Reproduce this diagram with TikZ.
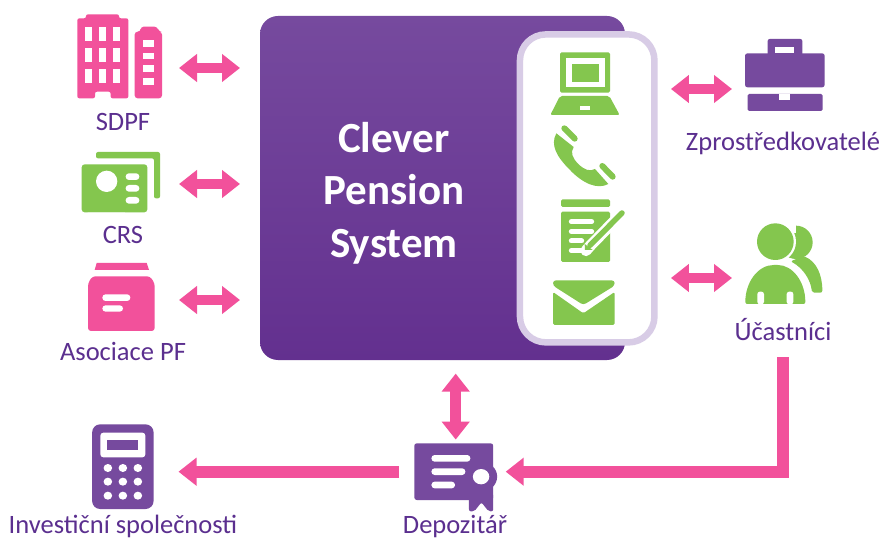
\documentclass[tikz,border=0pt]{standalone}
\usepackage{fontspec}
\setmainfont{Carlito}
\usetikzlibrary{arrows.meta}
\definecolor{pinkc}{HTML}{F2519B}
\definecolor{greenc}{HTML}{84C64E}
\definecolor{purpc}{HTML}{764A9E}
\definecolor{textc}{HTML}{5B2F8F}
\definecolor{ringc}{HTML}{D8CCE6}
\definecolor{botc}{HTML}{63308F}
\tikzset{
  lab/.style={text=textc,inner sep=0pt,font=\fontsize{26.5}{28}\selectfont},
  title/.style={text=white,inner sep=0pt,align=center,font=\fontsize{43}{52.5}\selectfont\bfseries},
  anchorbox/.style={inner sep=0pt,outer sep=0pt},
  dbl/.style={draw=pinkc,line width=10.5pt,{Triangle[length=18pt,width=27pt]}-{Triangle[length=18pt,width=27pt]}},
  sgl/.style={draw=pinkc,line width=12pt,-{Triangle[length=18pt,width=27pt]}},
  zoomed/.style={x=0.33333pt,y=-0.33333pt},
}
\begin{document}
\begin{tikzpicture}[x=1pt,y=-1pt]
\useasboundingbox (0,0) rectangle (881,540);
\fill[white] (0,0) rectangle (881,540);

% main system
\node[anchorbox,rounded corners=18pt,top color=purpc,bottom color=botc,minimum width=365pt,minimum height=344pt] (sys) at (442.5,188) {};
\node[title] (systxt) at (394,193) {Clever\\Pension\\System};
\node[anchorbox,draw=ringc,line width=6.5pt,fill=white,rounded corners=26pt,minimum width=134.5pt,minimum height=308pt] (portal) at (587.2,188.4) {};

% invisible icon frames, connectors end on them
\node[anchorbox,minimum width=102pt,minimum height=60pt] (sdpf) at (128,68) {};
\node[anchorbox,minimum width=102pt,minimum height=60pt] (crs) at (128,184) {};
\node[anchorbox,minimum width=102pt,minimum height=60pt] (asoc) at (128,300) {};
\node[anchorbox,minimum width=62pt,minimum height=60pt] (broker) at (763,89) {};
\node[anchorbox,minimum width=62pt,minimum height=60pt] (part) at (763,278) {};
\node[anchorbox,minimum width=100pt,minimum height=64.2pt] (dep) at (455.7,471.7) {};
\node[anchorbox,minimum width=112pt,minimum height=86pt] (inv) at (122.5,471.7) {};

% ---- SDPF building
\begin{scope}[shift={(60,0)},zoomed]
\fill[pinkc,rounded corners=2pt] (52,295) -- (52,55) -- (78,55) -- (78,43) -- (177,43) -- (177,55) -- (205,55) -- (205,295) -- (152,295) -- (152,275) -- (105,275) -- (105,295) -- cycle;
\fill[pinkc,rounded corners=3pt] (224,295) -- (224,95) -- (242,95) -- (242,80) -- (292,80) -- (296,95) -- (306,95) -- (306,295) -- cycle;
\foreach \xx in {76,118,160}\foreach \yy in {80,143,206}
  \fill[white] (\xx,\yy) rectangle ++(21,42);
\foreach \yy in {120,158,196,234}
  \fill[white] (249,\yy) rectangle ++(32,20);
% ---- CRS card
\fill[greenc,rounded corners=2pt] (108,475) -- (108,456) -- (300,456) -- (300,595) -- (282,595) -- (282,475) -- cycle;
\fill[greenc,rounded corners=3pt] (65,493) rectangle (262,637);
\fill[white] (140,544) circle[radius=32];
\fill[white] (83,638) arc[start angle=180,end angle=0,x radius=56,y radius=46] -- cycle;
\foreach \yy in {520,555,591}
  \fill[white,rounded corners=3.2pt] (197,\yy) rectangle ++(41,20);
% ---- Asociace box
\fill[pinkc] (110,789) -- (260,789) -- (267,810) -- (104,810) -- cycle;
\fill[pinkc,rounded corners=3pt] (84,993) -- (84,850) -- (97,829) -- (270,829) -- (284,850) -- (284,993) -- cycle;
\fill[white,rounded corners=3.2pt] (127,883) rectangle (211,903);
\fill[white,rounded corners=3.2pt] (127,916) rectangle (189,935);
\end{scope}

% ---- portal icons
\begin{scope}[shift={(510,20)},zoomed]
% laptop
\fill[greenc,rounded corners=1.5pt] (150,97) rectangle (300,218);
\fill[white] (168,113) rectangle (285,200);
\fill[greenc] (186,132) rectangle (268,185);
\fill[greenc,rounded corners=2pt] (150,228) -- (298,228) -- (329,285) -- (121,285) -- cycle;
\fill[white] (210,257) rectangle (241,269);
% phone
\draw[greenc,line width=6pt,line cap=round] (163,325) -- (194,356);
\draw[greenc,line width=6pt,line cap=round] (277,438) -- (308,470);
\fill[greenc] (139,340) -- (191,381)
  .. controls (180,398) and (188,415) .. (205,432)
  .. controls (222,449) and (240,456) .. (255,447)
  -- (295,492)
  .. controls (262,510) and (218,490) .. (180,450)
  .. controls (140,410) and (120,375) .. (139,340) -- cycle;
% notepad
\fill[greenc,rounded corners=1.5pt] (153,538) rectangle (300,561);
\fill[greenc,rounded corners=1.5pt] (153,575) rectangle (300,726);
\foreach \yy/\xe in {605/245,634/245,663/215,692/222}
  \draw[white,line width=5pt,line cap=round] (184,\yy) -- (\xe,\yy);
\draw[white,line width=11pt,line cap=round] (345,570) -- (240,678) -- (228,692);
\draw[greenc,line width=5.5pt,line cap=round] (336,579) -- (240,676);
\fill[greenc] (224,672) -- (248,690) -- (225,690) -- cycle;
% envelope
\fill[greenc,rounded corners=3pt] (129,781) -- (314,781) -- (314,797) -- (220,855) -- (129,797) -- cycle;
\fill[greenc,rounded corners=1.5pt] (129,816) -- (220,880) -- (314,816) -- (314,915) -- (129,915) -- cycle;
\end{scope}

% ---- right icons
\begin{scope}[shift={(660,20)},zoomed]
% briefcase
\fill[purpc,rounded corners=2pt] (323,110) -- (323,57) -- (427,57) -- (427,110) -- cycle;
\fill[white] (346,80) rectangle (403,100);
\fill[purpc,rounded corners=2.5pt] (255,100) rectangle (494,202);
\fill[purpc,rounded corners=1.5pt] (263,222) rectangle (488,273);
\fill[white] (358,222) rectangle (390,239);
% people
\fill[greenc] (408,667) circle[radius=50];
\fill[greenc,rounded corners=2pt] (430,708)
  .. controls (470,725) and (487,765) .. (487,818) -- (456,818)
  .. controls (452,780) and (430,745) .. (392,724) -- cycle;
\fill[white] (346,665) circle[radius=62];
\draw[white,line width=5pt] (256,852) .. controls (256,785) and (295,735) .. (347,735) .. controls (398,735) and (436,785) .. (436,852);
\fill[white] (408,640) rectangle (340,600);
\fill[greenc] (346,665) circle[radius=55];
\fill[greenc,rounded corners=2pt] (256,852) .. controls (256,785) and (295,735) .. (347,735) .. controls (398,735) and (436,785) .. (436,852) -- cycle;
\fill[white,rounded corners=2.5pt] (292,853) -- (292,815) -- (312,815) -- (312,853) -- cycle;
\fill[white,rounded corners=2.5pt] (380,853) -- (380,815) -- (400,815) -- (400,853) -- cycle;
\end{scope}

% ---- bottom icons
\begin{scope}[shift={(0,370)},x=0.35714pt,y=-0.33333pt]
% calculator
\fill[purpc,rounded corners=8pt] (258,163) rectangle (430,417);
\fill[white,rounded corners=3pt] (281,188) rectangle (407,262);
\fill[purpc] (300,210) rectangle (386,240);
\foreach \xx in {302,344,386}\foreach \yy in {294,335,377}
  \fill[white] (\xx,\yy) circle[radius=12];
% certificate
\fill[purpc,rounded corners=2.5pt] (1160,220) rectangle (1381,390);
\fill[purpc] (1347,320) circle[radius=45];
\fill[purpc,rounded corners=2pt] (1313,370) -- (1381,370) -- (1381,424) -- (1368,424) -- (1348,397) -- (1328,424) -- (1313,424) -- cycle;
\fill[white] (1347,320) circle[radius=23];
\fill[white,rounded corners=3.2pt] (1208,255) rectangle (1317,275);
\fill[white,rounded corners=3.2pt] (1208,295) rectangle (1303,315);
\fill[white,rounded corners=3.2pt] (1208,335) rectangle (1274,355);
\end{scope}

% labels
\node[lab] (l1) at (123,122) {SDPF};
\node[lab] (l2) at (123,235) {CRS};
\node[lab] (l3) at (123,351) {Asociace PF};
\node[lab] (l4) at (783,143) {Zprostředkovatelé};
\node[lab] (l5) at (783,330) {Účastníci};
\node[lab] (l6) at (455,526.5) {Depozitář};
\node[lab] (l7) at (123,526.5) {Investiční společnosti};

% connectors
\draw[dbl,shorten >=20pt] (sdpf.east) -- (sdpf.east -| sys.west);
\draw[dbl,shorten >=20pt] (crs.east) -- (crs.east -| sys.west);
\draw[dbl,shorten >=20pt] (asoc.east) -- (asoc.east -| sys.west);
\draw[dbl,shorten <=16.5pt] (broker.west -| portal.east) -- (broker.west);
\draw[dbl,shorten <=16.5pt] (part.west -| portal.east) -- (part.west);
\draw[dbl,shorten >=13.6pt] (dep.north) -- (dep.north |- sys.south);
\draw[sgl,shorten <=6.7pt] (dep.west) -- (inv.east);
\coordinate (elbow) at (783,471.7);
\coordinate (partout) at (783,357);
\draw[sgl] (partout) -- (elbow) -- (dep.east |- elbow);
\end{tikzpicture}
\end{document}
